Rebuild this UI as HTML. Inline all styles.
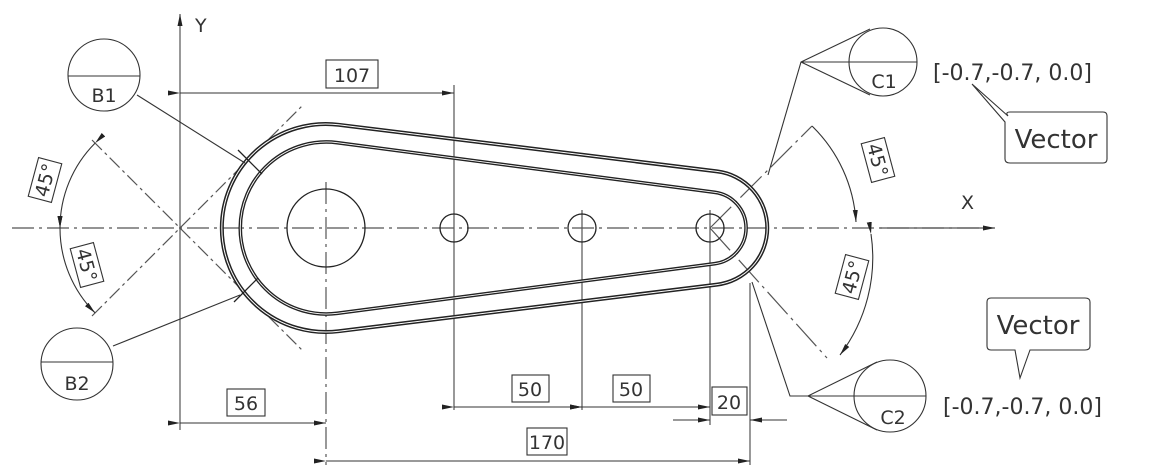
<!DOCTYPE html><html><head><style>body{margin:0;background:#fff}svg{display:block}text{font-family:"DejaVu Sans","Liberation Sans",sans-serif;fill:#333}</style></head><body>
<svg width="1172" height="474" viewBox="0 0 1172 474" xmlns="http://www.w3.org/2000/svg">
<defs><marker id="a" markerWidth="12" markerHeight="6" refX="12" refY="3" orient="auto" markerUnits="userSpaceOnUse"><path d="M0,0.5L12,3L0,5.5z" fill="#222"/></marker></defs>
<g stroke="#555" stroke-width="1.2" fill="none">
<line x1="12" y1="228" x2="990" y2="228" stroke-dasharray="22,5,3,5"/>
<line x1="180" y1="430" x2="180" y2="14" marker-end="url(#a)"/>
<line x1="92" y1="140" x2="302" y2="350" stroke-dasharray="14,4,3,4"/>
<line x1="92" y1="316" x2="302" y2="106" stroke-dasharray="14,4,3,4"/>
<line x1="326" y1="182" x2="326" y2="465" stroke-dasharray="22,5,3,5"/>
<line x1="454" y1="85" x2="454" y2="410"/>
<line x1="582" y1="210" x2="582" y2="410"/>
<line x1="710" y1="210" x2="710" y2="425"/>
<line x1="750" y1="283" x2="750" y2="465"/>
<line x1="880" y1="228" x2="995" y2="228" marker-end="url(#a)"/>
<line x1="710" y1="228" x2="812" y2="126" stroke-dasharray="30,5,3,5"/>
<line x1="710" y1="228" x2="827" y2="358" stroke-dasharray="30,5,3,5"/>
</g>
<g stroke="#222" fill="none">
<path d="M338.7,124.8 L717,171.4 A57,57 0 0 1 717,284.6 L338.7,331.2 A104,104 0 1 1 338.7,124.8z" stroke-width="4"/>
<path d="M338.7,124.8 L717,171.4 A57,57 0 0 1 717,284.6 L338.7,331.2 A104,104 0 1 1 338.7,124.8z" stroke="#fff" stroke-width="1"/>
<path d="M337.2,142.7 L714.7,192.3 A36,36 0 0 1 714.7,263.7 L337.2,313.3 A86,86 0 1 1 337.2,142.7z" stroke-width="3.6"/>
<path d="M337.2,142.7 L714.7,192.3 A36,36 0 0 1 714.7,263.7 L337.2,313.3 A86,86 0 1 1 337.2,142.7z" stroke="#fff" stroke-width="0.9"/>
<g stroke-width="1.3"><circle cx="326" cy="228" r="39"/><circle cx="454" cy="228" r="14"/><circle cx="582" cy="228" r="14"/><circle cx="710" cy="228" r="14"/></g>
<g stroke-width="1.3"><line x1="238" y1="150" x2="262" y2="174"/><line x1="234" y1="302" x2="258" y2="278"/></g>
</g>
<g stroke="#333" stroke-width="1.1" fill="none">
<line x1="180" y1="93" x2="454" y2="93" marker-start="url(#a)" marker-end="url(#a)"/>
<line x1="180" y1="423" x2="326" y2="423" marker-start="url(#a)" marker-end="url(#a)"/>
<line x1="326" y1="461" x2="750" y2="461" marker-start="url(#a)" marker-end="url(#a)"/>
<line x1="454" y1="407" x2="582" y2="407" marker-start="url(#a)" marker-end="url(#a)"/>
<line x1="582" y1="407" x2="710" y2="407" marker-start="url(#a)" marker-end="url(#a)"/>
<line x1="673" y1="420" x2="710" y2="420" marker-end="url(#a)"/>
<line x1="787" y1="420" x2="750" y2="420" marker-end="url(#a)"/>
<path d="M95.1,143.1 A120,120 0 0 0 60,228" marker-start="url(#a)" marker-end="url(#a)"/>
<path d="M60,228 A120,120 0 0 0 95.1,312.9" marker-start="url(#a)" marker-end="url(#a)"/>
<path d="M812,126 A146,146 0 0 1 856,222" marker-end="url(#a)"/>
<path d="M871,234 A161,161 0 0 1 840,355" marker-start="url(#a)" marker-end="url(#a)"/>
<polyline points="768,175 801,62 870,29"/><line x1="801" y1="62" x2="870" y2="95"/><line x1="801" y1="62" x2="917" y2="62"/>
<circle cx="883" cy="62" r="34"/>
<polyline points="752,282 790,396 808,396 877,362"/><line x1="808" y1="396" x2="877" y2="430"/><line x1="808" y1="396" x2="926" y2="396"/>
<circle cx="890" cy="396" r="36"/>
<circle cx="104" cy="75" r="36"/><line x1="68" y1="76" x2="140" y2="76"/><line x1="137" y1="95" x2="245" y2="163"/>
<circle cx="77" cy="364" r="36"/><line x1="41" y1="362" x2="113" y2="362"/><line x1="113" y1="346" x2="240" y2="295"/>
<path d="M1008,116 Q1005,112 1010,112 L1103,112 Q1107,112 1107,116 L1107,159 Q1107,163 1103,163 L1010,163 Q1005,163 1005,159 L1005,122 L972,84 Z" fill="#fff"/>
<path d="M991,298 L1085,298 Q1090,298 1090,302 L1090,346 Q1090,350 1085,350 L1030,350 L1020,378 L1015,350 L991,350 Q987,350 987,346 L987,302 Q987,298 991,298Z" fill="#fff"/>
<rect x="326" y="60" width="52" height="28"/><rect x="227" y="389" width="38" height="27"/><rect x="527" y="428" width="40" height="27"/>
<rect x="512" y="375" width="37" height="27"/><rect x="613" y="375" width="37" height="27"/><rect x="712" y="387" width="35" height="28"/>
<g transform="translate(45,180) rotate(-75)"><rect x="-20" y="-12" width="40" height="24"/></g>
<g transform="translate(87,265) rotate(75)"><rect x="-20" y="-12" width="40" height="24"/></g>
<g transform="translate(878,160) rotate(75)"><rect x="-20" y="-12" width="40" height="24"/></g>
<g transform="translate(852,277) rotate(-75)"><rect x="-20" y="-12" width="40" height="24"/></g>
</g>
<g font-size="19">
<text x="352" y="82" text-anchor="middle">107</text><text x="246" y="410" text-anchor="middle">56</text><text x="547" y="449" text-anchor="middle">170</text>
<text x="530" y="396" text-anchor="middle">50</text><text x="631" y="396" text-anchor="middle">50</text><text x="729" y="409" text-anchor="middle">20</text>
<g transform="translate(45,180) rotate(-75)"><text x="0" y="7" text-anchor="middle">45°</text></g>
<g transform="translate(87,265) rotate(75)"><text x="0" y="7" text-anchor="middle">45°</text></g>
<g transform="translate(878,160) rotate(75)"><text x="0" y="7" text-anchor="middle">45°</text></g>
<g transform="translate(852,277) rotate(-75)"><text x="0" y="7" text-anchor="middle">45°</text></g>
<text x="104" y="102" text-anchor="middle">B1</text><text x="77" y="390" text-anchor="middle">B2</text>
<text x="884" y="88" text-anchor="middle">C1</text><text x="893" y="424" text-anchor="middle">C2</text>
<text x="195" y="32">Y</text><text x="961" y="209">X</text>
</g>
<g font-size="22"><text x="933" y="80">[-0.7,-0.7, 0.0]</text><text x="943" y="414">[-0.7,-0.7, 0.0]</text></g>
<g font-size="26"><text x="1056" y="148" text-anchor="middle">Vector</text><text x="1038" y="334" text-anchor="middle">Vector</text></g>
</svg></body></html>
